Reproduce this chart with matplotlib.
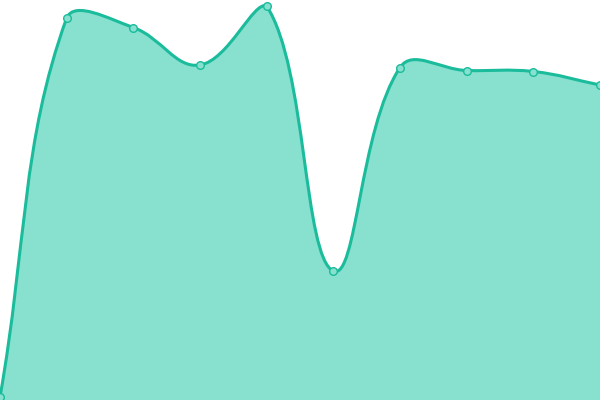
import numpy as np
import matplotlib
matplotlib.use("Agg")
import matplotlib.pyplot as plt
from matplotlib.path import Path
from matplotlib.patches import PathPatch

# data
labels = list(range(10))
values = [0, 379, 369.5, 332, 391, 126, 329.5, 326.5, 325.5, 312]

LINE = "#1abc9c"
FILL = "#88e0cf"
W, H = 600, 400
YMIN, YMAX = -3, 397


def to_px(x, y):
    return x * W / (len(labels) - 1), (y - YMIN) * H / (YMAX - YMIN)


def from_px(px, py):
    return px * (len(labels) - 1) / W, py * (YMAX - YMIN) / H + YMIN


# chart.js style spline control points (tension 0.4), computed in pixel space
pts = [to_px(x, y) for x, y in zip(labels, values)]
t = 0.4
ctrl = []
for i, cur in enumerate(pts):
    prev = pts[i - 1] if i > 0 else cur
    nxt = pts[i + 1] if i < len(pts) - 1 else cur
    d01 = np.hypot(cur[0] - prev[0], cur[1] - prev[1])
    d12 = np.hypot(nxt[0] - cur[0], nxt[1] - cur[1])
    tot = d01 + d12
    s01 = d01 / tot if tot else 0
    s12 = d12 / tot if tot else 0
    fa, fb = t * s01, t * s12
    cp_prev = (cur[0] - fa * (nxt[0] - prev[0]), cur[1] - fa * (nxt[1] - prev[1]))
    cp_next = (cur[0] + fb * (nxt[0] - prev[0]), cur[1] + fb * (nxt[1] - prev[1]))
    # cap inside chart area
    cp_prev = (min(max(cp_prev[0], 0), W), min(max(cp_prev[1], 0), H))
    cp_next = (min(max(cp_next[0], 0), W), min(max(cp_next[1], 0), H))
    ctrl.append((cp_prev, cp_next))

verts = [from_px(*pts[0])]
codes = [Path.MOVETO]
for i in range(1, len(pts)):
    verts += [from_px(*ctrl[i - 1][1]), from_px(*ctrl[i][0]), from_px(*pts[i])]
    codes += [Path.CURVE4] * 3

fill_verts = verts + [(labels[-1], YMIN), (labels[0], YMIN), verts[0]]
fill_codes = codes + [Path.LINETO, Path.LINETO, Path.CLOSEPOLY]

fig = plt.figure(figsize=(6, 4), dpi=100)
ax = fig.add_axes([0, 0, 1, 1])
ax.add_patch(PathPatch(Path(fill_verts, fill_codes), facecolor=FILL, edgecolor="none"))
ax.add_patch(PathPatch(Path(verts, codes), facecolor="none", edgecolor=LINE, lw=2.2,
                       capstyle="round", joinstyle="round"))
ax.plot(labels, values, "o", ms=5.5, mfc=FILL, mec=LINE, mew=1, clip_on=False, zorder=3)
ax.set_xlim(labels[0], labels[-1])
ax.set_ylim(YMIN, YMAX)
ax.axis("off")
fig.savefig("out.png", dpi=100)
